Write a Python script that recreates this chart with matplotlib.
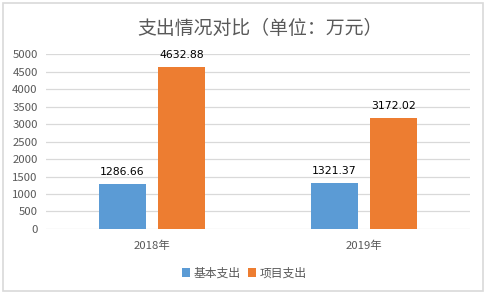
import matplotlib.pyplot as plt
import numpy as np
from matplotlib.patches import Rectangle

plt.rcParams['font.family'] = ['Noto Sans CJK SC', 'DejaVu Sans']

# 数据
years = ['2018年', '2019年']
basic = [1286.66, 1321.37]
project = [4632.88, 3172.02]
series_names = ['基本支出', '项目支出']
colors = ['#5b9bd5', '#ed7d31']

fig = plt.figure(figsize=(4.89, 2.97), dpi=100)
ax = fig.add_axes([0.094, 0.229, 0.867, 0.589])

x = np.arange(len(years))
w = 0.22
b1 = ax.bar(x - 0.14, basic, w, color=colors[0], label=series_names[0], zorder=3)
b2 = ax.bar(x + 0.14, project, w, color=colors[1], label=series_names[1], zorder=3)

for bars in (b1, b2):
    for r in bars:
        ax.text(r.get_x() + r.get_width() / 2, r.get_height() + 200,
                '%.2f' % r.get_height(), ha='center', va='bottom',
                fontsize=7.8, color='black', family='DejaVu Sans')

ax.set_xlim(-0.5, 1.5)
ax.set_ylim(0, 5000)
ax.set_yticks(range(0, 5001, 500))
ax.set_xticks(x)
ax.set_xticklabels(years)
ax.grid(axis='y', color='#d9d9d9', linewidth=0.9, zorder=0)
for s in ax.spines.values():
    s.set_visible(False)
ax.tick_params(length=0, labelsize=8.2, colors='#595959')
ax.tick_params(axis='y', pad=6)
ax.tick_params(axis='x', pad=8)

fig.suptitle('支出情况对比（单位：万元）', x=0.532, y=0.94, fontsize=13.6, color='#595959')

leg = fig.legend(loc='center', bbox_to_anchor=(0.5, 0.08), ncol=2, frameon=False,
                 fontsize=8.5, handlelength=0.7, handleheight=0.7, handletextpad=0.3,
                 columnspacing=0.6, labelcolor='#595959')

fig.patches.append(Rectangle((3 / 489, 1 - 291 / 297), 480 / 489, 288 / 297,
                             transform=fig.transFigure, fill=False,
                             edgecolor='#d9d9d9', linewidth=1.2))

plt.savefig('out.png', dpi=100)
